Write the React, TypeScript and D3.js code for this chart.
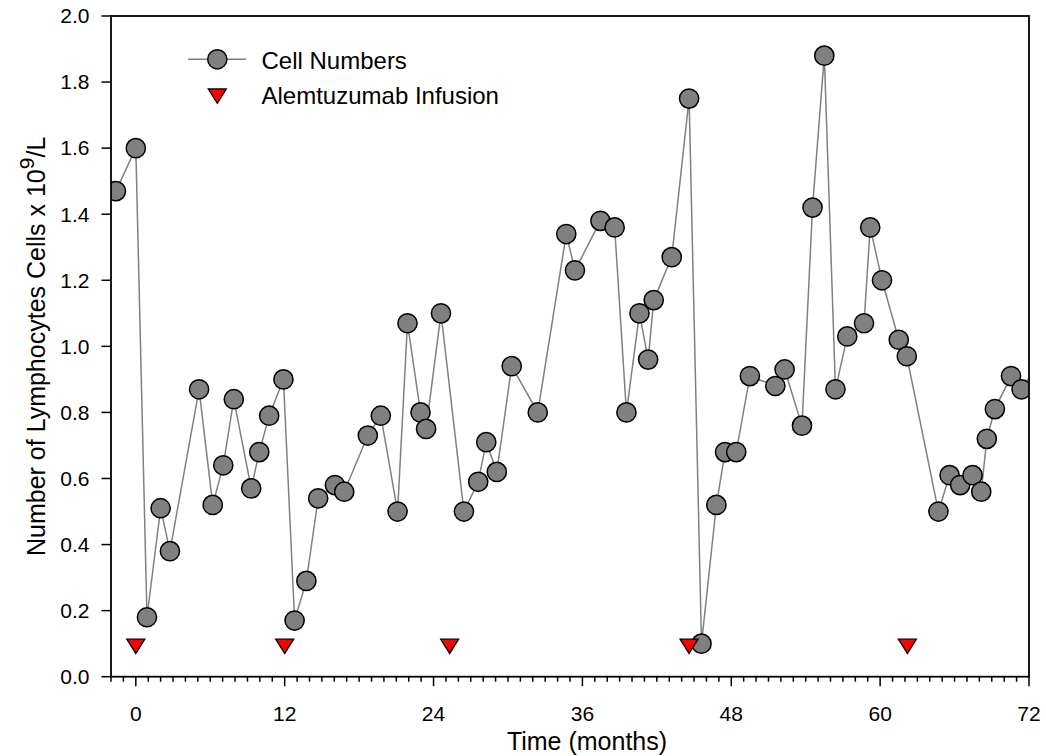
import React from "react";
import * as d3 from "d3";

const months = [
  -1.6, 0, 0.9, 2.0, 2.75, 5.1, 6.2, 7.05, 7.9, 9.3, 9.95, 10.75, 11.9, 12.8, 13.75, 14.7,
  16.05, 16.8, 18.7, 19.75, 21.1, 21.9, 22.95, 23.4, 24.6, 26.45, 27.6, 28.25, 29.1, 30.3,
  32.4, 34.7, 35.4, 37.45, 38.6, 39.55, 40.6, 41.3, 41.75, 43.2, 44.6, 45.6, 46.8, 47.5,
  48.4, 49.5, 51.55, 52.3, 53.7, 54.55, 55.5, 56.4, 57.35, 58.7, 59.2, 60.15, 61.5, 62.15,
  64.7, 65.6, 66.45, 67.45, 68.15, 68.6, 69.25, 70.55, 71.4, 73.0,
];
const cellNumbers = [
  1.47, 1.6, 0.18, 0.51, 0.38, 0.87, 0.52, 0.64, 0.84, 0.57, 0.68, 0.79, 0.9, 0.17, 0.29, 0.54,
  0.58, 0.56, 0.73, 0.79, 0.5, 1.07, 0.8, 0.75, 1.1, 0.5, 0.59, 0.71, 0.62, 0.94,
  0.8, 1.34, 1.23, 1.38, 1.36, 0.8, 1.1, 0.96, 1.14, 1.27, 1.75, 0.1, 0.52, 0.68,
  0.68, 0.91, 0.88, 0.93, 0.76, 1.42, 1.88, 0.87, 1.03, 1.07, 1.36, 1.2, 1.02, 0.97,
  0.5, 0.61, 0.58, 0.61, 0.56, 0.72, 0.81, 0.91, 0.87, 0.96,
];
const infusionMonths = [0, 12, 25.3, 44.6, 62.2];
const infusionLevel = [0.1, 0.1, 0.1, 0.1, 0.1];

const xMajorTicks = [0, 12, 24, 36, 48, 60, 72];
const yTicks = [0, 0.2, 0.4, 0.6, 0.8, 1.0, 1.2, 1.4, 1.6, 1.8, 2.0];
const seriesNames = ["Cell Numbers", "Alemtuzumab Infusion"];

const W = 1046;
const H = 756;
const L = 111, R = 1029, T = 16, B = 676.7;
const FONT = "'Liberation Sans', Arial, Helvetica, sans-serif";
const GREY = "#808080";
const TRI = "M-9,-4.5 L9,-4.5 L0,9.8 Z";

export default function App() {
  const x = d3.scaleLinear().domain([-2, 72]).range([L, R]);
  const y = d3.scaleLinear().domain([0, 2]).range([B, T]);
  const pts = months.map((m, i) => [m, cellNumbers[i]] as [number, number]);
  const line = d3
    .line<[number, number]>()
    .x((d) => x(d[0]))
    .y((d) => y(d[1]));
  const minorTicks = d3.range(-2, 73, 1).filter((m) => m % 12 !== 0);

  return (
    <svg
      width={W}
      height={H}
      style={{ position: "absolute", left: 0, top: 0, background: "#fff" }}
      fontFamily={FONT}
    >
      <defs>
        <clipPath id="plotclip">
          <rect x={L} y={T} width={R - L} height={B - T} />
        </clipPath>
      </defs>
      {/* data */}
      <g clipPath="url(#plotclip)">
        <path d={line(pts) || ""} fill="none" stroke={GREY} strokeWidth={1.5} />
        {pts.map((d, i) => (
          <circle key={i} cx={x(d[0])} cy={y(d[1])} r={9.6} fill={GREY} stroke="#000" strokeWidth={1.5} />
        ))}
        {infusionMonths.map((m, i) => (
          <path
            key={i}
            d={TRI}
            transform={`translate(${x(m)},${y(infusionLevel[i])})`}
            fill="#ff0000"
            stroke="#000"
            strokeWidth={1.3}
          />
        ))}
      </g>
      {/* frame */}
      <rect x={L} y={T} width={R - L} height={B - T} fill="none" stroke="#000" strokeWidth={1.8} />
      {/* x ticks */}
      {minorTicks.map((m) => (
        <line key={"mn" + m} x1={x(m)} x2={x(m)} y1={B} y2={B + 5} stroke="#000" strokeWidth={1.5} />
      ))}
      {xMajorTicks.map((m) => (
        <g key={"mj" + m}>
          <line x1={x(m)} x2={x(m)} y1={B} y2={B + 9.5} stroke="#000" strokeWidth={1.5} />
          <text x={x(m)} y={721} fontSize={21} textAnchor="middle" fill="#000">
            {m}
          </text>
        </g>
      ))}
      {/* y ticks */}
      {yTicks.map((v) => (
        <g key={"y" + v}>
          <line x1={L - 9.5} x2={L} y1={y(v)} y2={y(v)} stroke="#000" strokeWidth={1.5} />
          <text x={89.5} y={y(v)} dy="0.35em" fontSize={21} textAnchor="end" fill="#000">
            {v.toFixed(1)}
          </text>
        </g>
      ))}
      {/* axis titles */}
      <text x={587} y={750} fontSize={25} textAnchor="middle" fill="#000">
        Time (months)
      </text>
      <text
        transform={`translate(45,${(T + B) / 2}) rotate(-90)`}
        fontSize={25}
        textAnchor="middle"
        fill="#000"
      >
        Number of Lymphocytes Cells x 10
        <tspan dy={-11} fontSize={21}>9</tspan>
        <tspan dy={11}>/L</tspan>
      </text>
      {/* legend */}
      <g>
        <line x1={188} x2={246} y1={59.3} y2={59.3} stroke={GREY} strokeWidth={1.5} />
        <circle cx={217.3} cy={59.3} r={9.6} fill={GREY} stroke="#000" strokeWidth={1.5} />
        <text x={261.5} y={68.5} fontSize={24} fill="#000">
          {seriesNames[0]}
        </text>
        <path d={TRI} transform="translate(217.3,93.5)" fill="#ff0000" stroke="#000" strokeWidth={1.3} />
        <text x={261.5} y={104} fontSize={24} fill="#000">
          {seriesNames[1]}
        </text>
      </g>
    </svg>
  );
}
